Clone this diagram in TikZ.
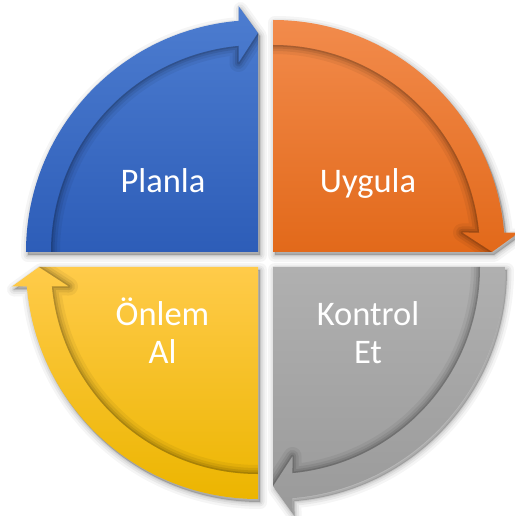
\documentclass[tikz,border=0pt]{standalone}
\usepackage{fontspec}
\setmainfont{Carlito}
\usetikzlibrary{calc}
\definecolor{blueT}{HTML}{4D7DD0}
\definecolor{blueB}{HTML}{2D5DB8}
\definecolor{orT}{HTML}{F28B4C}
\definecolor{orB}{HTML}{E2691A}
\definecolor{grT}{HTML}{B0B0B0}
\definecolor{grB}{HTML}{9A9A9A}
\definecolor{yeT}{HTML}{FFCB4A}
\definecolor{yeB}{HTML}{ECB500}
\def\Ro{232}\def\Ri{207}\def\Ho{246}\def\Hi{189}\def\Rt{219}\def\HL{19.5}
\newcommand\qsetup[1]{%
  \pgfmathsetmacro\aS{#1}%
  \pgfmathsetmacro\aE{#1-90}%
  \pgfmathsetmacro\dO{\aE+asin(\HL/\Ro)}%
  \pgfmathsetmacro\dI{\aE+asin(\HL/\Ri)}%
}
\newcommand\myshadow[3]{%
  \begin{scope}[shift={(#1,#2)}]
    \qsetup{#3}
    \foreach \w/\o in {14/0.04, 9/0.05, 5/0.06, 2/0.07}{
      \path[fill=black, fill opacity=\o, draw=black, draw opacity=\o,
            line width=\w, line join=round, shift={(2,-3)}]
        (0,0) -- (\aS:\Ro) arc[start angle=\aS, end angle=\dO, radius=\Ro]
        -- ($(\aE:\Ho)+(\aE+90:\HL)$) -- (\aE:\Rt) -- cycle;
    }
  \end{scope}}
\newcommand\myquad[5]{%
  \begin{scope}[shift={(#1,#2)}]
    \qsetup{#3}
    \path[top color=#4, bottom color=#5]
      (0,0) -- (\aS:\Ro) arc[start angle=\aS, end angle=\dO, radius=\Ro]
      -- ($(\aE:\Ho)+(\aE+90:\HL)$) -- (\aE:\Rt) -- cycle;
    \begin{scope}
      \clip (0,0) -- (\aS:\Ri) arc[start angle=\aS, end angle=\dI, radius=\Ri]
        -- ($(\aE:\Hi)+(\aE+90:\HL)$) -- (\aE:\Rt) -- cycle;
      \foreach \w/\o in {18/0.05, 12/0.07, 7/0.09, 3/0.12}{
        \draw[black, opacity=\o, line width=\w, line join=round]
          (\aS:\Ri) arc[start angle=\aS, end angle=\dI, radius=\Ri]
          -- ($(\aE:\Hi)+(\aE+90:\HL)$) -- (\aE:\Rt);
      }
    \end{scope}
  \end{scope}}
\begin{document}
\begin{tikzpicture}[x=1pt,y=1pt,
  lbl/.style={text=white, font=\fontsize{34.5}{38}\selectfont, align=center, inner sep=0pt}]
\useasboundingbox (-265.5,-256.5) rectangle (248.5,259.5);
\fill[white] (-265.5,-256.5) rectangle (248.5,259.5);
\myshadow{-7.5}{7.5}{180}
\myshadow{7.5}{7.5}{90}
\myshadow{7.5}{-7.5}{0}
\myshadow{-7.5}{-7.5}{270}
\myquad{-7.5}{7.5}{180}{blueT}{blueB}
\myquad{7.5}{7.5}{90}{orT}{orB}
\myquad{7.5}{-7.5}{0}{grT}{grB}
\myquad{-7.5}{-7.5}{270}{yeT}{yeB}
\node[lbl, anchor=base] (plan) at (-102.5,66.5) {Planla};
\node[lbl, anchor=base] (uyg) at (102.5,66.5) {Uygula};
\node[lbl, anchor=base] (onl) at (-103,-103.5) {Önlem\\Al};
\node[lbl, anchor=base] (kon) at (102.5,-103.5) {Kontrol\\Et};
\end{tikzpicture}
\end{document}
